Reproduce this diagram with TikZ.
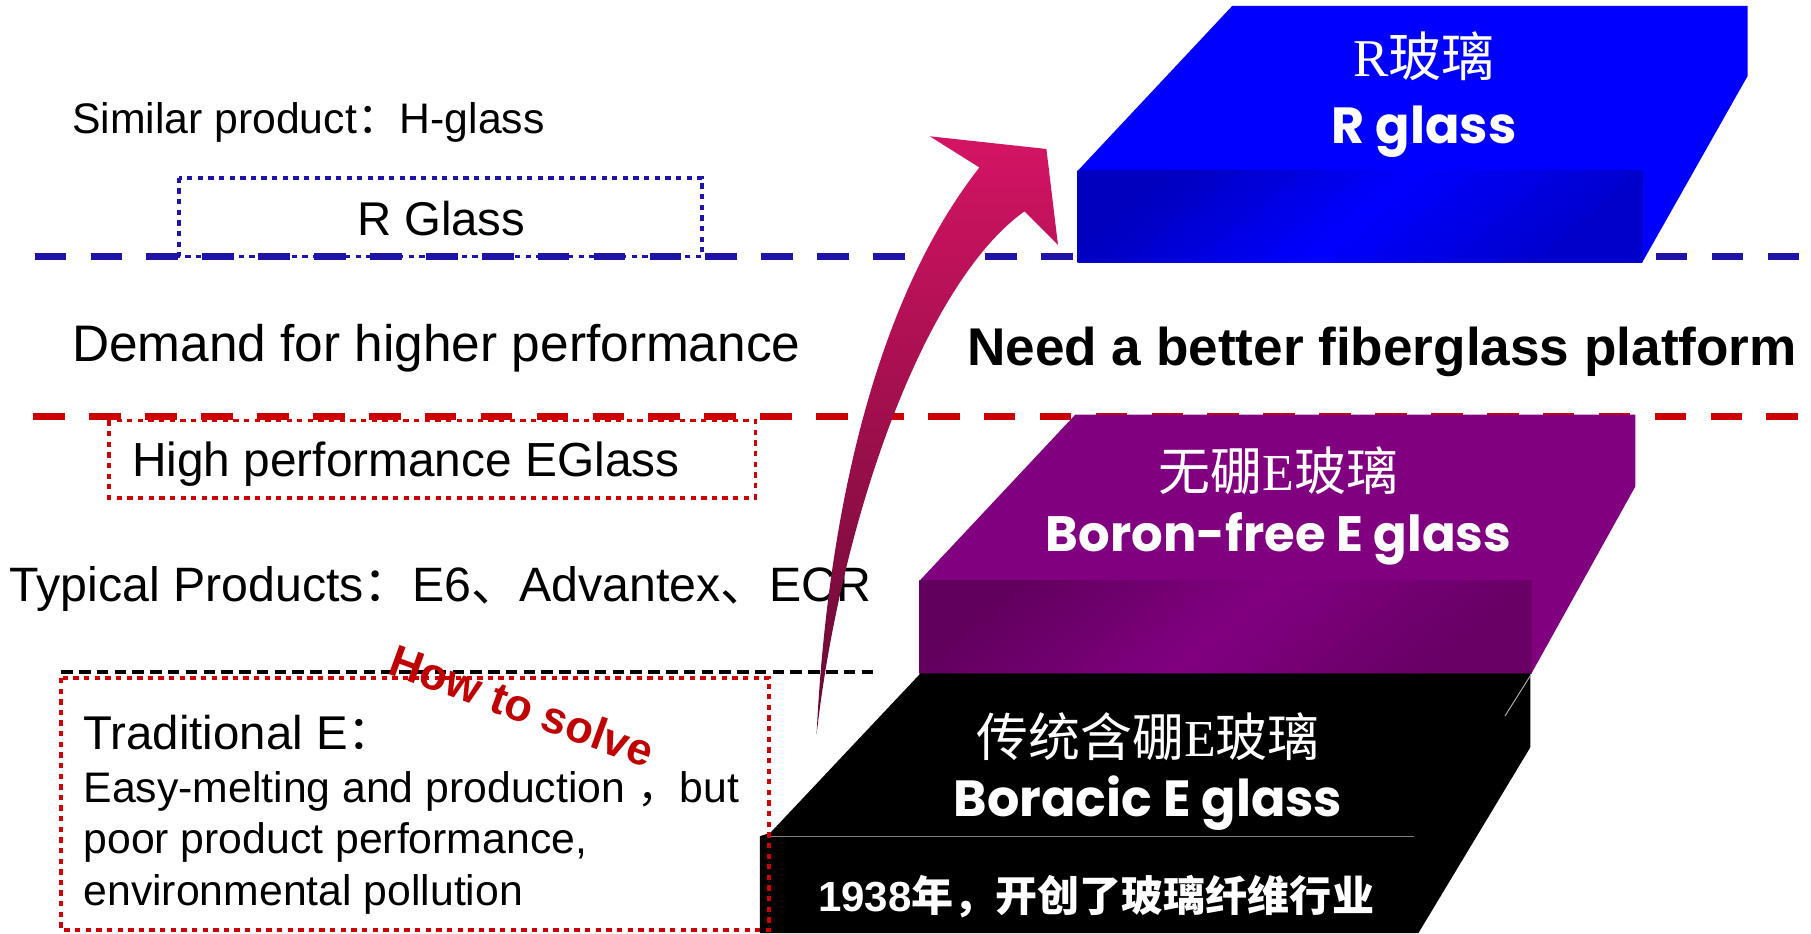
\documentclass[tikz,border=0pt]{standalone}
\usepackage{fontspec}
\setmainfont{Liberation Sans}
\newfontfamily\cjk{Noto Sans CJK SC}
\newfontfamily\gothic{Poppins}
\newfontfamily\serifR{Liberation Serif}
\definecolor{lineblue}{RGB}{30,20,170}
\definecolor{linered}{RGB}{204,0,0}
\definecolor{slabblue}{RGB}{0,0,255}
\definecolor{slabbluedk}{RGB}{0,0,190}
\definecolor{slabpurple}{RGB}{128,0,128}
\definecolor{slabpurpledk}{RGB}{98,0,94}
\definecolor{arrowtop}{RGB}{212,20,100}
\definecolor{arrowbot}{RGB}{100,10,50}
\definecolor{howred}{RGB}{192,0,0}
\newcommand\fsz[1]{\fontsize{#1pt}{#1pt}\selectfont}
\begin{document}
\begin{tikzpicture}[x=0.5pt,y=-0.5pt,
  levelline/.style={line width=3pt, dash pattern=on 13.7pt off 10.5pt},
  dotbox/.style={line width=1.6pt, dash pattern=on 2.3pt off 2.3pt},
  lbl/.style={inner sep=0pt, text=black},
  slabtxt/.style={inner sep=0pt, text=white}]
\useasboundingbox (0,0) rectangle (1568,808);
\fill[white] (0,0) rectangle (1568,808);
% level lines
\coordinate (bl1) at (30,222); \coordinate (bl2) at (1562,222);
\coordinate (rl1) at (29,361); \coordinate (rl2) at (1562,361);
\coordinate (kl1) at (53,582); \coordinate (kl2) at (760,582);
\draw[levelline, lineblue] (bl1) -- (bl2);
\draw[levelline, linered] (rl1) -- (rl2);
\draw[line width=1.5pt, dash pattern=on 5pt off 2.7pt] (kl1) -- (kl2);
% blue slab
\fill[slabblue] (1067,5) -- (1513,5) -- (1513,66) -- (1422,227) -- (933,227) -- (933,148) -- cycle;
\shade[top color=slabbluedk, bottom color=slabbluedk!80!slabblue, middle color=slabblue, shading angle=40] (933,148) rectangle (1422,227);
% purple slab
\fill[slabpurple] (931,359) -- (1416,359) -- (1416,421) -- (1326,583) -- (796,583) -- (796,503) -- cycle;
\shade[top color=slabpurpledk, bottom color=slabpurpledk!80!slabpurple, middle color=slabpurple, shading angle=40] (796,503) rectangle (1326,583);
% black slab
\fill[black] (797,583) -- (1325,583) -- (1325,647) -- (1228,808) -- (658,808) -- (658,724) -- (667,721) -- cycle;
\draw[gray, line width=0.4pt] (667,724) -- (1224,724);
\draw[white!70!black, line width=0.4pt] (1325,585) -- (1303,620);
% left texts
\node[lbl, anchor=base west, font=\fsz{18.5}] (similar) at (62,116) {Similar product{\cjk ：}H-glass};
\node[lbl, anchor=base, font=\fsz{20.5}] (rglassbox) at (382,203.5) {R Glass};
\node[lbl, anchor=base west, font=\fsz{22.25}] (demand) at (62,313) {Demand for higher performance};
\node[lbl, anchor=base west, font=\bfseries\fsz{23}] (need) at (837,316.5) {Need a better fiberglass platform};
\node[lbl, anchor=base west, font=\fsz{20.7}] (hpe) at (114,412.7) {High performance EGlass};
\node[lbl, anchor=base west, font=\fsz{20.9}] (typical) at (8,521) {Typical Products{\cjk ：}E6{\cjk 、}Advantex{\cjk 、}ECR};
\node[lbl, anchor=base west, font=\fsz{20.5}] (trad) at (72,649) {Traditional E{\cjk ：}};
\node[lbl, anchor=base west, font=\fsz{18.5}] (easy) at (72,695) {Easy-melting and production {\cjk ，}but};
\node[lbl, anchor=base west, font=\fsz{18.5}] (poor) at (72,739) {poor product performance,};
\node[lbl, anchor=base west, font=\fsz{18.5}] (env) at (72,784) {environmental pollution};
% slab texts
\node[slabtxt, anchor=base, font=\fsz{23}] (rcn) at (1233,66) {{\serifR R}{\cjk 玻璃}};
\node[slabtxt, anchor=base, font=\gothic\bfseries\fsz{22}] (ren) at (1233,124) {R glass};
\node[slabtxt, anchor=base, font=\fsz{22.5}] (bfcn) at (1107,425) {{\cjk 无硼}{\serifR E}{\cjk 玻璃}};
\node[slabtxt, anchor=base, font=\gothic\bfseries\fsz{21.5}] (bfen) at (1107,477.6) {Boron-free E glass};
\node[slabtxt, anchor=base, font=\fsz{22.5}] (bcn) at (994,655) {{\cjk 传统含硼}{\serifR E}{\cjk 玻璃}};
\node[slabtxt, anchor=base, font=\gothic\bfseries\fsz{22}] (ben) at (994,707) {Boracic E glass};
\node[slabtxt, anchor=base, font=\bfseries\fsz{18.2}] (year) at (949,789) {1938{\cjk\bfseries 年，开创了玻璃纤维行业}};
% dotted boxes
\draw[dotbox, lineblue] (155,154) rectangle (608,222);
\draw[dotbox, linered] (94.5,364) rectangle (654,431);
\draw[dotbox, linered] (53,587) rectangle (666,805);
% arrow
\shade[top color=arrowtop, bottom color=arrowbot]
  (707,636) .. controls (715,470) and (750,270) .. (848,145)
  -- (805,118) -- (906,129) -- (916,212) -- (887,183)
  .. controls (800,245) and (728,450) .. (707,636) -- cycle;
% how to solve
\node[rotate=-20, text=howred, font=\bfseries\fsz{19.5}, inner sep=0pt] (how) at (452,611) {How to solve};
\end{tikzpicture}
\end{document}
